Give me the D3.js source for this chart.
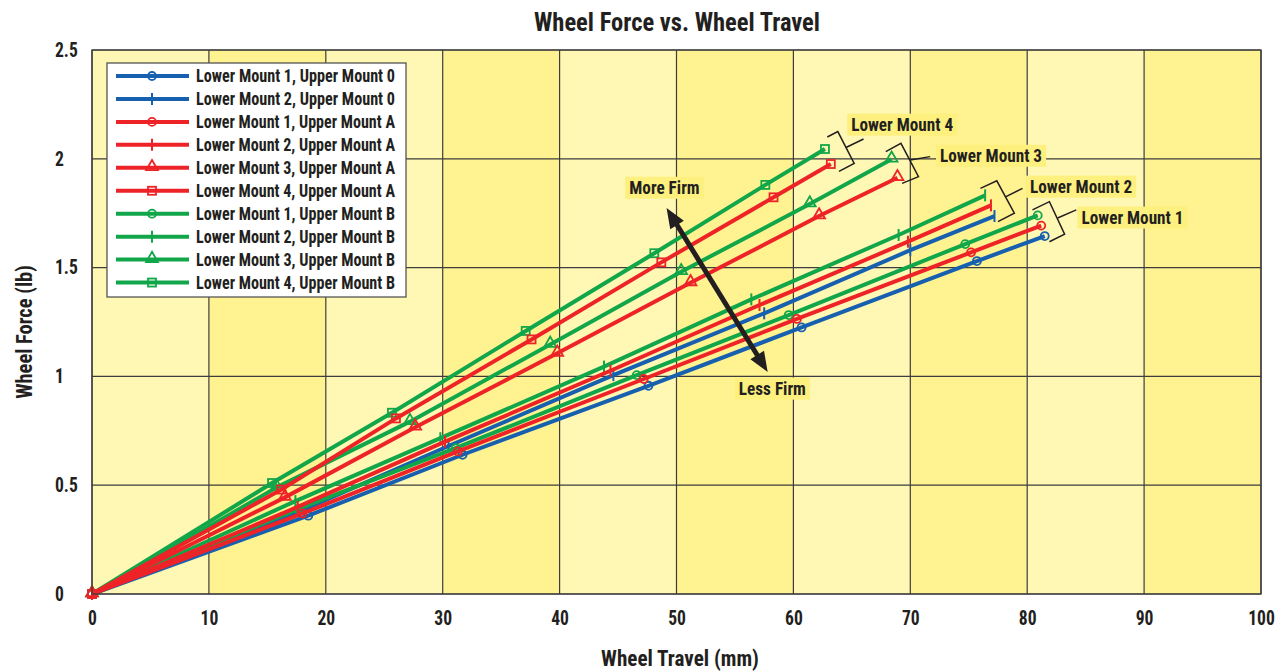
<!DOCTYPE html>
<html lang="en">
<head>
<meta charset="utf-8">
<script src="https://d3js.org/d3.v7.min.js"></script>
<style>
  body { margin: 0; background: #fff; }
  svg text { font-family: "Liberation Sans Narrow", "Roboto Condensed", Roboto, "DejaVu Sans Condensed", sans-serif; font-weight: bold; fill: #231f20; }
</style>
<title>Wheel Force vs. Wheel Travel</title>
</head>
<body>
<script>
// chart size
var w = 1279, h = 672;
var plotL = 92, plotR = 1261, plotT = 50, plotB = 594;

// axis ticks
var xTicks = [0, 10, 20, 30, 40, 50, 60, 70, 80, 90, 100];
var yTicks = [0, 0.5, 1, 1.5, 2, 2.5];

// series: [travel mm, force lb]
var lm1um0 = [[0,0],[18.5,0.36],[31.7,0.64],[47.6,0.957],[60.7,1.225],[75.7,1.53],[81.5,1.645]];
var lm2um0 = [[0,0],[17.8,0.38],[30.5,0.68],[44.6,1.006],[57.5,1.29],[70.0,1.58],[77.2,1.737]];
var lm1uma = [[0,0],[18.0,0.37],[31.3,0.655],[47.2,0.988],[60.3,1.264],[75.2,1.57],[81.2,1.693]];
var lm2uma = [[0,0],[17.6,0.40],[30.2,0.70],[44.35,1.026],[57.1,1.328],[69.8,1.619],[76.9,1.786]];
var lm3uma = [[0,0],[16.5,0.444],[27.65,0.766],[39.8,1.106],[51.2,1.43],[62.2,1.737],[68.9,1.913]];
var lm4uma = [[0,0],[16.2,0.48],[26.0,0.807],[37.6,1.17],[48.7,1.524],[58.3,1.823],[63.2,1.976]];
var lm1umb = [[0,0],[17.6,0.39],[31.1,0.67],[46.6,1.006],[59.6,1.282],[74.7,1.608],[80.9,1.74]];
var lm2umb = [[0,0],[17.4,0.427],[29.8,0.716],[43.8,1.045],[56.4,1.354],[69.0,1.65],[76.4,1.832]];
var lm3umb = [[0,0],[15.8,0.49],[27.2,0.792],[39.2,1.147],[50.4,1.481],[61.4,1.792],[68.4,1.998]];
var lm4umb = [[0,0],[15.4,0.51],[25.66,0.833],[37.1,1.209],[48.1,1.566],[57.6,1.88],[62.7,2.045]];

var seriesNames = ["Lower Mount 1, Upper Mount 0", "Lower Mount 2, Upper Mount 0",
  "Lower Mount 1, Upper Mount A", "Lower Mount 2, Upper Mount A", "Lower Mount 3, Upper Mount A",
  "Lower Mount 4, Upper Mount A", "Lower Mount 1, Upper Mount B", "Lower Mount 2, Upper Mount B",
  "Lower Mount 3, Upper Mount B", "Lower Mount 4, Upper Mount B"];
var seriesData = [lm1um0, lm2um0, lm1uma, lm2uma, lm3uma, lm4uma, lm1umb, lm2umb, lm3umb, lm4umb];
var seriesMarks = ["circle", "plus", "circle", "plus", "triangle", "square", "circle", "plus", "triangle", "square"];
var seriesGroup = ["0", "0", "A", "A", "A", "A", "B", "B", "B", "B"];
var groupColor = { "0": "#1760b0", "A": "#ee2327", "B": "#12a64a" };
var drawOrder = [0, 1, 6, 7, 8, 9, 2, 3, 4, 5];

// annotations (data units)
var bracketLabels = ["Lower Mount 4", "Lower Mount 3", "Lower Mount 2", "Lower Mount 1"];
var bracketBacks = [
  [[62.9,2.10],[63.8,2.125],[65.2,1.979],[63.9,1.942]],
  [[67.9,2.033],[69.2,2.071],[70.7,1.918],[69.3,1.887]],
  [[76.0,1.864],[77.4,1.899],[78.9,1.750],[77.5,1.711]],
  [[80.45,1.765],[81.9,1.803],[83.2,1.654],[81.9,1.619]]
];
var bracketTicks = [
  [[64.5,2.052],[66.0,2.091]],
  [[70.0,1.994],[71.7,2.01]],
  [[78.1,1.824],[79.6,1.864]],
  [[82.6,1.728],[84.2,1.765]]
];
var bracketLabelAt = [[64.6,2.16],[72.2,2.017],[79.9,1.875],[84.3,1.733]];
var firmLabels = ["More Firm", "Less Firm"];
var firmLabelAt = [[48.97,1.87],[58.2,0.947]];
var firmArrow = [[49.15,1.774],[57.8,1.02]];

var svg = d3.select("body").append("svg").attr("width", w).attr("height", h);

var x = d3.scaleLinear().domain([0, 100]).range([plotL, plotR]);
var y = d3.scaleLinear().domain([0, 2.5]).range([plotB, plotT]);

// narrow the glyphs a bit, the original uses a condensed face
function squeeze(t, k) {
  var len = t.node().getComputedTextLength();
  t.attr("textLength", len * k).attr("lengthAdjust", "spacingAndGlyphs");
  return t;
}

// column bands
svg.append("g").selectAll("rect")
  .data(xTicks.slice(0, -1))
  .enter().append("rect")
  .attr("x", function(d) { return x(d); })
  .attr("y", plotT)
  .attr("width", function(d) { return x(d + 10) - x(d); })
  .attr("height", plotB - plotT)
  .attr("fill", function(d, i) { return i % 2 ? "#fff290" : "#fff7b4"; });

// grid
var grid = svg.append("g").attr("stroke", "#3d3d3d").attr("stroke-width", 1.2);
grid.selectAll("line.v").data(xTicks).enter().append("line")
  .attr("x1", function(d) { return x(d); }).attr("x2", function(d) { return x(d); })
  .attr("y1", plotT).attr("y2", plotB);
grid.selectAll("line.h").data(yTicks).enter().append("line")
  .attr("y1", function(d) { return y(d); }).attr("y2", function(d) { return y(d); })
  .attr("x1", plotL).attr("x2", plotR);

// axes (labels only)
var xAxis = svg.append("g").attr("transform", "translate(0," + plotB + ")")
  .call(d3.axisBottom(x).tickValues(xTicks).tickSize(0).tickPadding(17).tickFormat(d3.format("d")));
var yAxis = svg.append("g").attr("transform", "translate(" + plotL + ",0)")
  .call(d3.axisLeft(y).tickValues(yTicks).tickSize(0).tickPadding(0).tickFormat(function(d) { return d; }));
[xAxis, yAxis].forEach(function(a) {
  a.select(".domain").remove();
  a.selectAll("text").style("font-size", "19.5px").attr("fill", "#231f20")
    .each(function() { squeeze(d3.select(this), 0.9); });
});
yAxis.selectAll("text").attr("text-anchor", "start").attr("x", -37).attr("dy", "0.32em");

// titles
squeeze(svg.append("text").attr("x", 677).attr("y", 31).attr("text-anchor", "middle")
  .style("font-size", "25px").text("Wheel Force vs. Wheel Travel"), 0.98);
squeeze(svg.append("text").attr("x", 680).attr("y", 666).attr("text-anchor", "middle")
  .style("font-size", "22px").text("Wheel Travel (mm)"), 0.96);
squeeze(svg.append("text").attr("transform", "translate(32,332) rotate(-90)")
  .attr("text-anchor", "middle").style("font-size", "22px").text("Wheel Force (lb)"), 0.93);

function drawMark(g, type, cx, cy, color) {
  if (type === "circle") {
    g.append("circle").attr("cx", cx).attr("cy", cy).attr("r", 4)
      .attr("fill", "none").attr("stroke", color).attr("stroke-width", 1.8);
  } else if (type === "square") {
    g.append("rect").attr("x", cx - 4).attr("y", cy - 4).attr("width", 8).attr("height", 8)
      .attr("fill", "none").attr("stroke", color).attr("stroke-width", 1.8);
  } else if (type === "triangle") {
    g.append("path").attr("d", d3.symbol().type(d3.symbolTriangle).size(60)())
      .attr("transform", "translate(" + cx + "," + (cy - 1) + ")")
      .attr("fill", "none").attr("stroke", color).attr("stroke-width", 1.8);
  } else {
    g.append("path").attr("d", "M" + cx + "," + (cy - 6) + "V" + (cy + 6))
      .attr("stroke", color).attr("stroke-width", 2);
  }
}

// series
var line = d3.line().x(function(d) { return x(d[0]); }).y(function(d) { return y(d[1]); });
var plot = svg.append("g");
drawOrder.forEach(function(i) {
  var color = groupColor[seriesGroup[i]];
  var g = plot.append("g");
  g.append("path").datum(seriesData[i]).attr("d", line)
    .attr("fill", "none").attr("stroke", color).attr("stroke-width", 4).attr("stroke-linejoin", "round");
  seriesData[i].forEach(function(p) { drawMark(g, seriesMarks[i], x(p[0]), y(p[1]), color); });
});

// frame
svg.append("rect").attr("x", plotL).attr("y", plotT).attr("width", plotR - plotL).attr("height", plotB - plotT)
  .attr("fill", "none").attr("stroke", "#3d3d3d").attr("stroke-width", 1.3);

// brackets + labels
function labelBox(cx, cy, txt, anchor) {
  var g = svg.append("g");
  var t = g.append("text").attr("x", cx).attr("y", cy).attr("dy", "0.36em")
    .attr("text-anchor", anchor).style("font-size", "18.5px").text(txt);
  squeeze(t, 0.93);
  var b = t.node().getBBox();
  g.insert("rect", "text").attr("x", b.x - 4).attr("y", b.y).attr("width", b.width + 8).attr("height", b.height)
    .attr("fill", "#fdf07e");
}
bracketLabels.forEach(function(lbl, i) {
  svg.append("path").attr("d", line(bracketBacks[i]))
    .attr("fill", "none").attr("stroke", "#231f20").attr("stroke-width", 1.5);
  svg.append("path").attr("d", line(bracketTicks[i]))
    .attr("fill", "none").attr("stroke", "#231f20").attr("stroke-width", 1.5);
  labelBox(x(bracketLabelAt[i][0]) + 4, y(bracketLabelAt[i][1]), lbl, "start");
});
firmLabels.forEach(function(lbl, i) {
  labelBox(x(firmLabelAt[i][0]), y(firmLabelAt[i][1]), lbl, "middle");
});

// double arrow
var a0 = [x(firmArrow[0][0]), y(firmArrow[0][1])], a1 = [x(firmArrow[1][0]), y(firmArrow[1][1])];
var ang = Math.atan2(a1[1] - a0[1], a1[0] - a0[0]);
var headL = 20, headW = 8;
function head(tip, dir) {
  var bx = tip[0] - dir * headL * Math.cos(ang), by = tip[1] - dir * headL * Math.sin(ang);
  var px = -Math.sin(ang) * headW, py = Math.cos(ang) * headW;
  return "M" + tip[0] + "," + tip[1] + "L" + (bx + px) + "," + (by + py) + "L" + (bx - px) + "," + (by - py) + "Z";
}
svg.append("line")
  .attr("x1", a0[0] + 15 * Math.cos(ang)).attr("y1", a0[1] + 15 * Math.sin(ang))
  .attr("x2", a1[0] - 15 * Math.cos(ang)).attr("y2", a1[1] - 15 * Math.sin(ang))
  .attr("stroke", "#231f20").attr("stroke-width", 5);
svg.append("path").attr("d", head(a0, -1) + head(a1, 1)).attr("fill", "#231f20");

// legend
var lg = svg.append("g");
lg.append("rect").attr("x", 107).attr("y", 63).attr("width", 299).attr("height", 234)
  .attr("fill", "#fff").attr("stroke", "#555").attr("stroke-width", 1.3);
seriesNames.forEach(function(name, i) {
  var cy = 76 + i * 22.95, color = groupColor[seriesGroup[i]];
  var g = lg.append("g");
  g.append("line").attr("x1", 116).attr("x2", 189).attr("y1", cy).attr("y2", cy)
    .attr("stroke", color).attr("stroke-width", 4);
  drawMark(g, seriesMarks[i], 152, cy, color);
  var t = g.append("text").attr("x", 196).attr("y", cy).attr("dy", "0.36em").style("font-size", "17.5px").text(name);
  t.attr("textLength", 199).attr("lengthAdjust", "spacingAndGlyphs");
});
</script>
</body>
</html>
